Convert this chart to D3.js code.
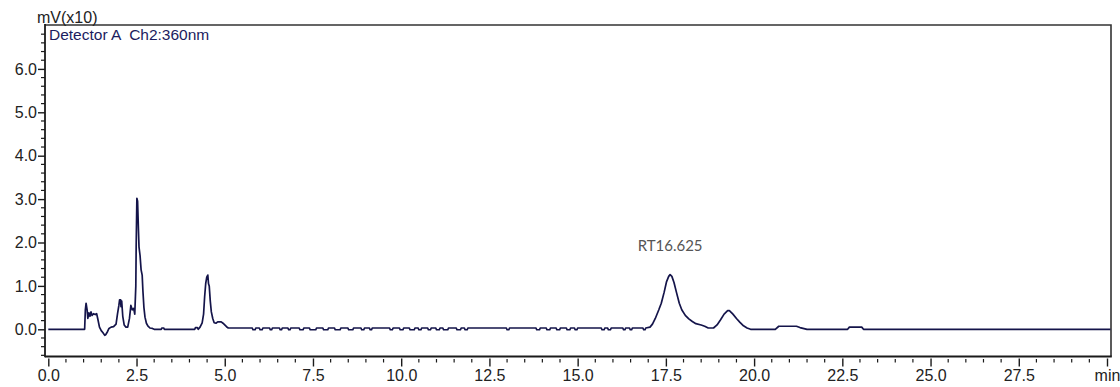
<!DOCTYPE html>
<html><head><meta charset="utf-8">
<script src="https://cdn.jsdelivr.net/npm/d3@7"></script>
<style>html,body{margin:0;padding:0;background:#fff;}svg{display:block;}</style>
</head><body>
<svg id="chart" width="1120" height="387"></svg>
<script>
// ---- data ----
const xTickValues = [0, 2.5, 5, 7.5, 10, 12.5, 15, 17.5, 20, 22.5, 25, 27.5, 30];
const xTickLabels = ["0.0","2.5","5.0","7.5","10.0","12.5","15.0","17.5","20.0","22.5","25.0","27.5","min"];
const yTickValues = [0, 1, 2, 3, 4, 5, 6];
const yTickLabels = ["0.0","1.0","2.0","3.0","4.0","5.0","6.0"];
const yUnitLabel = "mV(x10)";
const detectorLabel = "Detector A  Ch2:360nm";
const peakLabel = "RT16.625";
const peakLabelTime = 17.62;
const peakLabelValue = 1.8;

const retentionTime = [
  0.00, 1.03, 1.05, 1.07, 1.10, 1.12, 1.15, 1.18, 1.21, 1.24, 1.28, 1.33, 1.37, 1.40, 1.45, 1.50, 1.55, 1.60, 1.63, 1.68,
  1.72, 1.78, 1.85, 1.92, 1.96, 2.00, 2.02, 2.05, 2.06, 2.08, 2.11, 2.15, 2.20, 2.25, 2.30, 2.34, 2.38, 2.42, 2.45, 2.48,
  2.49, 2.51, 2.53, 2.55, 2.57, 2.60, 2.63, 2.66, 2.68, 2.71, 2.74, 2.78, 2.82, 2.88, 2.95, 3.00, 3.20, 3.22, 3.27, 3.29,
  4.15, 4.17, 4.22, 4.25, 4.30, 4.36, 4.40, 4.43, 4.46, 4.49, 4.52, 4.54, 4.56, 4.59, 4.62, 4.66, 4.70, 4.75, 4.80, 4.90,
  4.95, 5.00, 5.05, 5.10, 5.78, 5.80, 5.86, 5.88, 5.98, 6.00, 6.06, 6.08, 6.27, 6.29, 6.33, 6.35, 6.55, 6.57, 6.61, 6.63,
  6.79, 6.81, 6.85, 6.87, 7.11, 7.13, 7.22, 7.24, 7.40, 7.42, 7.58, 7.60, 7.78, 7.80, 7.92, 7.94, 8.11, 8.13, 8.27, 8.29,
  8.49, 8.51, 8.63, 8.65, 8.86, 8.88, 8.94, 8.96, 9.10, 9.12, 9.16, 9.18, 9.67, 9.69, 9.75, 9.77, 9.95, 9.97, 10.05, 10.07,
  10.23, 10.25, 10.37, 10.39, 10.48, 10.50, 10.56, 10.58, 10.75, 10.77, 10.83, 10.85, 10.98, 11.00, 11.08, 11.10, 11.18, 11.20, 11.32, 11.34,
  11.56, 11.58, 11.68, 11.70, 11.79, 11.81, 11.87, 11.89, 12.98, 13.00, 13.05, 13.07, 13.82, 13.84, 13.92, 13.94, 14.11, 14.13, 14.21, 14.23,
  14.39, 14.41, 14.49, 14.51, 14.68, 14.70, 14.78, 14.80, 14.91, 14.93, 14.98, 15.00, 15.67, 15.69, 15.75, 15.77, 15.85, 15.87, 15.93, 15.95,
  16.28, 16.30, 16.34, 16.36, 16.47, 16.49, 16.53, 16.55, 16.85, 16.87, 16.91, 16.93, 17.05, 17.12, 17.20, 17.30, 17.37, 17.45, 17.52, 17.58,
  17.62, 17.67, 17.73, 17.80, 17.88, 17.95, 18.05, 18.15, 18.25, 18.35, 18.50, 18.60, 18.70, 18.85, 18.95, 19.05, 19.15, 19.25, 19.30, 19.40,
  19.50, 19.60, 19.70, 19.80, 19.90, 20.60, 20.70, 21.20, 21.30, 21.50, 22.65, 22.70, 23.05, 23.10, 30.10
];
const signal = [
  0.00, 0.00, 0.45, 0.60, 0.45, 0.25, 0.38, 0.30, 0.40, 0.32, 0.36, 0.34, 0.36, 0.25, 0.05, -0.03, -0.08, -0.14, -0.12, -0.05,
  0.02, 0.05, 0.06, 0.12, 0.35, 0.55, 0.68, 0.68, 0.52, 0.65, 0.30, 0.10, 0.05, 0.05, 0.25, 0.55, 0.45, 0.48, 0.35, 1.00,
  1.90, 3.02, 2.95, 2.40, 1.90, 1.70, 1.37, 1.25, 0.90, 0.50, 0.28, 0.14, 0.08, 0.03, 0.02, 0.00, 0.00, 0.03, 0.03, 0.00,
  0.00, 0.04, 0.04, 0.00, 0.05, 0.15, 0.35, 0.75, 1.05, 1.20, 1.25, 1.05, 1.00, 0.65, 0.40, 0.25, 0.15, 0.14, 0.17, 0.17,
  0.14, 0.10, 0.06, 0.03, 0.03, -0.01, -0.01, 0.03, 0.03, -0.01, -0.01, 0.03, 0.03, -0.01, -0.01, 0.03, 0.03, -0.01, -0.01, 0.03,
  0.03, -0.01, -0.01, 0.03, 0.03, -0.01, -0.01, 0.03, 0.03, -0.01, -0.01, 0.03, 0.03, -0.01, -0.01, 0.03, 0.03, -0.01, -0.01, 0.03,
  0.03, -0.01, -0.01, 0.03, 0.03, -0.01, -0.01, 0.03, 0.03, -0.01, -0.01, 0.03, 0.03, -0.01, -0.01, 0.03, 0.03, -0.01, -0.01, 0.03,
  0.03, -0.01, -0.01, 0.03, 0.03, -0.01, -0.01, 0.03, 0.03, -0.01, -0.01, 0.03, 0.03, -0.01, -0.01, 0.03, 0.03, -0.01, -0.01, 0.03,
  0.03, -0.01, -0.01, 0.03, 0.03, -0.01, -0.01, 0.03, 0.03, -0.01, -0.01, 0.03, 0.03, -0.01, -0.01, 0.03, 0.03, -0.01, -0.01, 0.03,
  0.03, -0.01, -0.01, 0.03, 0.03, -0.01, -0.01, 0.03, 0.03, -0.01, -0.01, 0.03, 0.03, -0.01, -0.01, 0.03, 0.03, -0.01, -0.01, 0.03,
  0.03, -0.01, -0.01, 0.03, 0.03, -0.01, -0.01, 0.03, 0.03, -0.01, -0.01, 0.03, 0.05, 0.12, 0.25, 0.45, 0.60, 0.85, 1.10, 1.22,
  1.26, 1.22, 1.08, 0.85, 0.60, 0.45, 0.32, 0.24, 0.18, 0.13, 0.10, 0.07, 0.03, 0.03, 0.10, 0.22, 0.35, 0.43, 0.43, 0.35,
  0.25, 0.16, 0.08, 0.03, 0.00, 0.00, 0.07, 0.07, 0.04, 0.00, 0.00, 0.05, 0.05, 0.00, 0.00
];

// ---- layout ----
const svg = d3.select("#chart");
const frame = {left: 45, right: 1111, top: 25, bottom: 356.5};
const x = d3.scaleLinear().domain([0, 30]).range([48.3, 1107]);
const y = d3.scaleLinear().domain([0, 7]).range([329.3, 25.5]);
const axisColor = "#1a1a1a";
const fontFam = "'Liberation Sans', Arial, sans-serif";

// frame top/right
svg.append("path")
  .attr("d", `M${frame.left},${frame.top}H${frame.right}V${frame.bottom}`)
  .attr("fill", "none").attr("stroke", "#333").attr("stroke-width", 1.6);

// y axis
const yAxisG = svg.append("g").attr("transform", `translate(${frame.left},0)`);
yAxisG.append("line").attr("x1", 0).attr("x2", 0).attr("y1", frame.top - 1).attr("y2", frame.bottom + 0.8)
  .attr("stroke", axisColor).attr("stroke-width", 1.8);
const yMinor = d3.range(-3, 36).map(i => i * 0.2).filter(v => Math.abs(v - Math.round(v)) > 1e-6);
yAxisG.selectAll("line.ymin").data(yMinor).join("line").attr("class", "ymin")
  .attr("x1", -4).attr("x2", 0).attr("y1", d => y(d)).attr("y2", d => y(d))
  .attr("stroke", axisColor).attr("stroke-width", 1.2);
const yAxis = d3.axisLeft(y).tickValues(yTickValues).tickFormat((d, i) => yTickLabels[i]).tickSize(7).tickSizeOuter(0).tickPadding(1);
const yg = svg.append("g").attr("transform", `translate(${frame.left},0)`).call(yAxis);
yg.select(".domain").remove();
yg.selectAll(".tick line").attr("stroke", axisColor).attr("stroke-width", 1.4);
yg.selectAll(".tick text").attr("font-family", fontFam).attr("font-size", 16).attr("fill", "#222");

// x axis
svg.append("line").attr("x1", frame.left).attr("x2", frame.right + 0.8).attr("y1", frame.bottom).attr("y2", frame.bottom)
  .attr("stroke", axisColor).attr("stroke-width", 1.8);
const xMinor = d3.range(0, 61).map(i => i * 0.5).filter(v => Math.abs(v / 2.5 - Math.round(v / 2.5)) > 1e-6);
svg.selectAll("line.xmin").data(xMinor).join("line").attr("class", "xmin")
  .attr("x1", d => x(d)).attr("x2", d => x(d)).attr("y1", frame.bottom + 2.5).attr("y2", frame.bottom + 6)
  .attr("stroke", axisColor).attr("stroke-width", 1.2);
const xAxis = d3.axisBottom(x).tickValues(xTickValues).tickFormat((d, i) => xTickLabels[i]).tickSize(8).tickSizeOuter(0).tickPadding(3);
const xg = svg.append("g").attr("transform", `translate(0,${frame.bottom + 2})`).call(xAxis);
xg.select(".domain").remove();
xg.selectAll(".tick line").attr("stroke", axisColor).attr("stroke-width", 1.4);
xg.selectAll(".tick text").attr("font-family", fontFam).attr("font-size", 16).attr("fill", "#222");

// labels
svg.append("text").attr("x", 37).attr("y", 23).attr("font-family", fontFam).attr("font-size", 16)
  .attr("fill", "#222").text(yUnitLabel);
svg.append("text").attr("x", 49).attr("y", 40).attr("font-family", fontFam).attr("font-size", 15.5)
  .attr("fill", "#1c1c5e").attr("xml:space", "preserve").style("white-space", "pre").text(detectorLabel);

// trace
const pts = retentionTime.map((t, i) => [t, signal[i]]);
svg.append("path").datum(pts)
  .attr("d", d3.line().x(d => x(d[0])).y(d => y(d[1])))
  .attr("fill", "none").attr("stroke", "#14144a").attr("stroke-width", 1.7).attr("stroke-linejoin", "round");

svg.append("text").attr("x", x(peakLabelTime)).attr("y", y(peakLabelValue)).attr("text-anchor", "middle")
  .attr("font-family", "Lato, 'Open Sans', sans-serif").attr("font-size", 15).attr("fill", "#555").text(peakLabel);
</script>
</body></html>
